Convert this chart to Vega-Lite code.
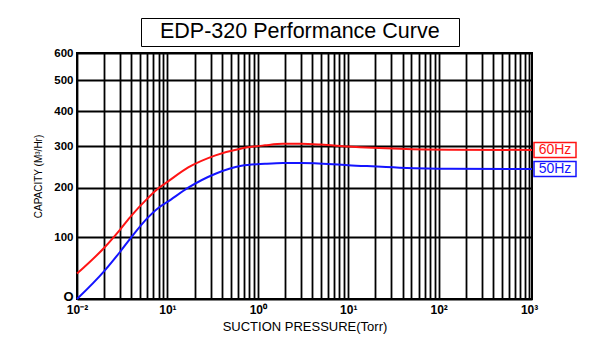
{
  "$schema": "https://vega.github.io/schema/vega-lite/v6.json",
  "width": 455,
  "height": 246,
  "autosize": {"type": "none"},
  "padding": {"left": 77, "top": 53, "right": 74, "bottom": 55},
  "background": "white",
  "config": {
    "view": {"stroke": "black", "strokeWidth": 2},
    "font": "Liberation Sans"
  },
  "data": {
    "values": [
      {"hz": "60Hz", "p": 0.01, "cap": 38},
      {"hz": "60Hz", "p": 0.02, "cap": 81},
      {"hz": "60Hz", "p": 0.03, "cap": 114},
      {"hz": "60Hz", "p": 0.04, "cap": 141},
      {"hz": "60Hz", "p": 0.06, "cap": 176},
      {"hz": "60Hz", "p": 0.08, "cap": 199},
      {"hz": "60Hz", "p": 0.1, "cap": 213},
      {"hz": "60Hz", "p": 0.17, "cap": 247},
      {"hz": "60Hz", "p": 0.34, "cap": 277},
      {"hz": "60Hz", "p": 0.66, "cap": 295},
      {"hz": "60Hz", "p": 1.2, "cap": 303},
      {"hz": "60Hz", "p": 1.9, "cap": 307},
      {"hz": "60Hz", "p": 3, "cap": 307},
      {"hz": "60Hz", "p": 5, "cap": 305},
      {"hz": "60Hz", "p": 10, "cap": 300},
      {"hz": "60Hz", "p": 37, "cap": 294},
      {"hz": "60Hz", "p": 130, "cap": 291.5},
      {"hz": "60Hz", "p": 1077, "cap": 291},
      {"hz": "50Hz", "p": 0.01, "cap": 0},
      {"hz": "50Hz", "p": 0.02, "cap": 42},
      {"hz": "50Hz", "p": 0.03, "cap": 74},
      {"hz": "50Hz", "p": 0.04, "cap": 100},
      {"hz": "50Hz", "p": 0.06, "cap": 136},
      {"hz": "50Hz", "p": 0.08, "cap": 157},
      {"hz": "50Hz", "p": 0.1, "cap": 169},
      {"hz": "50Hz", "p": 0.17, "cap": 200},
      {"hz": "50Hz", "p": 0.34, "cap": 232},
      {"hz": "50Hz", "p": 0.66, "cap": 251},
      {"hz": "50Hz", "p": 1.2, "cap": 256},
      {"hz": "50Hz", "p": 1.9, "cap": 258},
      {"hz": "50Hz", "p": 3, "cap": 258},
      {"hz": "50Hz", "p": 10, "cap": 252.6},
      {"hz": "50Hz", "p": 37, "cap": 246.5},
      {"hz": "50Hz", "p": 130, "cap": 243.6},
      {"hz": "50Hz", "p": 1077, "cap": 243}
    ]
  },
  "encoding": {
    "x": {
      "field": "p",
      "type": "quantitative",
      "scale": {"type": "log", "domain": [0.01, 1077], "nice": false},
      "axis": {
        "values": [0.01,0.02,0.03,0.04,0.05,0.06,0.07,0.08,0.09,0.1,0.2,0.3,0.4,0.5,0.6,0.7,0.8,0.9,1,2,3,4,5,6,7,8,9,10,20,30,40,50,60,70,80,90,100,200,300,400,500,600,700,800,900,1000],
        "labelExpr": "abs(datum.value-0.01)<1e-9 ? '10⁻²' : abs(datum.value-0.1)<1e-9 ? '10¹' : abs(datum.value-1)<1e-9 ? '10⁰' : abs(datum.value-10)<1e-9 ? '10¹' : abs(datum.value-100)<1e-9 ? '10²' : abs(datum.value-1000)<1e-9 ? '10³' : ''",
        "grid": true,
        "gridColor": "black",
        "gridWidth": 1.8,
        "gridOpacity": 1,
        "ticks": false,
        "domain": false,
        "labelFontWeight": "bold",
        "labelFontSize": 12,
        "labelColor": "black",
        "labelPadding": 5,
        "labelOverlap": false,
        "labelFlush": false,
        "labelBound": false,
        "title": "SUCTION PRESSURE(Torr)",
        "titleFontSize": 13,
        "titleFontWeight": "normal",
        "titleColor": "black",
        "titlePadding": 5
      }
    },
    "y": {
      "field": "cap",
      "type": "quantitative",
      "scale": {"type": "symlog", "constant": 350, "domain": [0, 600], "nice": false},
      "axis": {
        "values": [0, 100, 200, 300, 400, 500, 600],
        "labelExpr": "datum.value == 0 ? 'O\u00a0\u00a0' : datum.label",
        "grid": true,
        "gridColor": "black",
        "gridWidth": 1.8,
        "gridOpacity": 1,
        "ticks": false,
        "domain": false,
        "labelFontWeight": "bold",
        "labelFontSize": {"condition": {"test": "datum.value == 0", "value": 13}, "value": 11.5},
        "labelOffset": {"condition": {"test": "datum.value == 0", "value": -3}, "value": 0},
        "labelColor": "black",
        "labelPadding": 4,
        "labelOverlap": false,
        "labelFlush": false,
        "title": "CAPACITY (M³/Hr)",
        "titleFontSize": 10,
        "titleFontWeight": "normal",
        "titleColor": "black",
        "titlePadding": 10
      }
    },
    "color": {
      "field": "hz",
      "type": "nominal",
      "scale": {"domain": ["60Hz", "50Hz"], "range": ["#ff1414", "#1414ff"]},
      "legend": {
        "values": [],
        "title": "\u2800EDP-320 Performance Curve\u2800",
        "titleFontSize": 21.5,
        "titleFontWeight": "normal",
        "titleColor": "black",
        "titleFont": "Liberation Sans",
        "titleLimit": 500,
        "titlePadding": 0,
        "strokeColor": "black",
        "padding": 3,
        "orient": "none",
        "legendX": 64,
        "legendY": -35
      }
    }
  },
  "layer": [
    {
      "mark": {"type": "line", "strokeWidth": 2, "interpolate": "monotone"}
    },
    {
      "transform": [{"filter": "datum.p == 1077"}],
      "mark": {
        "type": "point",
        "shape": "M-1,-0.357L1,-0.357L1,0.357L-1,0.357Z",
        "size": 1764,
        "filled": false,
        "opacity": 1,
        "strokeWidth": 1.5,
        "xOffset": 23
      }
    },
    {
      "transform": [{"filter": "datum.p == 1077"}],
      "mark": {"type": "text", "dx": 23, "align": "center", "baseline": "middle", "fontSize": 14},
      "encoding": {"text": {"field": "hz"}}
    }
  ]
}
